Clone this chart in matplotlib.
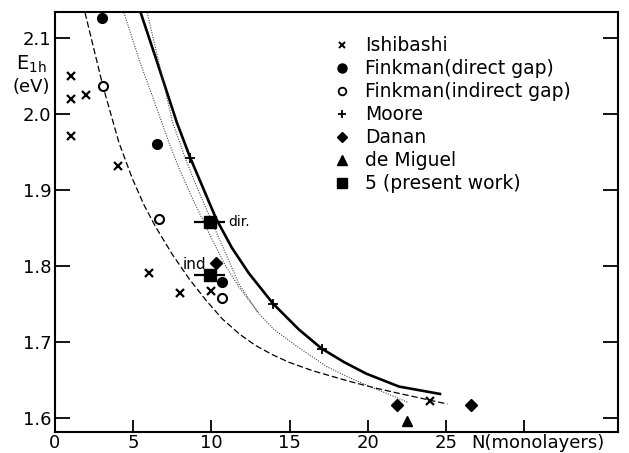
import matplotlib.pyplot as plt

plt.rcParams['font.family'] = 'DejaVu Sans'
plt.rcParams['mathtext.fontset'] = 'dejavusans'

# Экспериментальные точки E_1h(N)
ishibashi_n = [1, 1, 2, 1, 4, 6, 8, 10, 24]
ishibashi_e = [2.050, 2.020, 2.025, 1.971, 1.931, 1.790, 1.764, 1.767, 1.622]

finkman_dir_n = [3.0, 6.55, 10.7]
finkman_dir_e = [2.126, 1.960, 1.778]

finkman_ind_n = [3.1, 6.65, 10.7]
finkman_ind_e = [2.036, 1.862, 1.758]

moore_n = [8.65, 13.95, 17.05]
moore_e = [1.942, 1.750, 1.691]

danan_n = [10.3, 21.9, 26.6]
danan_e = [1.804, 1.617, 1.617]

miguel_n = [22.5]
miguel_e = [1.596]

present_n = [9.9, 9.9]
present_e = [1.857, 1.788]
present_dn = [1.0, 1.0]
present_labels = ['dir.', 'ind']

# Расчётные кривые
solid_n = [5.48, 6.45, 7.8, 8.65, 10.3, 11.3, 12.4, 13.95, 15.6, 17.05, 18.5, 19.9, 22.0, 24.7]
solid_e = [2.133, 2.073, 1.988, 1.942, 1.862, 1.824, 1.790, 1.750, 1.716, 1.691, 1.673, 1.658, 1.641, 1.631]

dashed_n = [1.92, 3.07, 4.09, 4.94, 5.69, 6.44, 7.5, 8.57, 9.64, 10.7, 11.8, 12.83, 13.9,
            14.96, 16.45, 18.8, 20.5, 22.0, 25.1]
dashed_e = [2.133, 2.036, 1.962, 1.915, 1.880, 1.851, 1.815, 1.783, 1.755, 1.730, 1.710, 1.695, 1.683,
            1.673, 1.662, 1.648, 1.639, 1.632, 1.618]

dot1_n = [4.41, 5.4, 6.44, 7.29, 7.93, 8.8, 9.53, 10.06, 10.9, 11.76, 13.0, 14.0, 15.6, 17.4, 18.8, 20.5, 22.6]
dot1_e = [2.133, 2.070, 2.011, 1.962, 1.928, 1.888, 1.857, 1.834, 1.800, 1.772, 1.738, 1.716, 1.692,
          1.667, 1.653, 1.638, 1.620]

dot2_n = [5.9, 6.83, 7.5, 8.3, 9.2, 9.95, 10.4, 11.0, 11.76, 13.0]
dot2_e = [2.133, 2.051, 1.990, 1.943, 1.897, 1.862, 1.840, 1.812, 1.776, 1.738]

n_ticks = [0, 5, 10, 15, 20, 25, 30]
n_ticklabels = ['0', '5', '10', '15', '20', '25', '']
e_ticks = [1.6, 1.7, 1.8, 1.9, 2.0, 2.1]
e_ticklabels = ['1.6', '1.7', '1.8', '1.9', '2.0', '2.1']

legend_names = ['Ishibashi', 'Finkman(direct gap)', 'Finkman(indirect gap)', 'Moore',
                'Danan', 'de Miguel', '5 (present work)']

fig = plt.figure(figsize=(6.29, 4.53), dpi=100)
ax = fig.add_axes([0.0874, 0.0470, 0.8951, 0.9276])

# кривые
ax.plot(solid_n, solid_e, color='k', lw=1.9, solid_capstyle='butt')
ax.plot(dashed_n, dashed_e, color='k', lw=0.9, dashes=(5, 2.3))
ax.plot(dot1_n, dot1_e, color='0.2', lw=0.75, linestyle=(0, (1, 1.4)))
ax.plot(dot2_n, dot2_e, color='0.2', lw=0.75, linestyle=(0, (1, 1.4)))

# точки
ax.plot(ishibashi_n, ishibashi_e, 'x', color='k', ms=6, mew=1.6, ls='none')
ax.plot(finkman_dir_n, finkman_dir_e, 'o', color='k', ms=7, ls='none')
ax.plot(finkman_ind_n, finkman_ind_e, 'o', mfc='white', mec='k', ms=6.5, mew=1.5, ls='none')
ax.plot(moore_n, moore_e, '+', color='k', ms=7.5, mew=1.3, ls='none')
ax.plot(danan_n, danan_e, 'D', color='k', ms=6.5, ls='none')
ax.plot(miguel_n, miguel_e, '^', color='k', ms=7, ls='none')
ax.errorbar(present_n, present_e, xerr=present_dn, fmt='s', color='k', ms=8,
            elinewidth=1.6, capsize=0)

ax.text(present_n[0] + present_dn[0] + 0.2, present_e[0], present_labels[0],
        ha='left', va='center', fontsize=10)
ax.text(present_n[1] - 0.2, present_e[1] + 0.013, present_labels[1],
        ha='right', va='center', fontsize=11)

# легенда вручную
leg_markers = [dict(marker='x', ms=5, mew=1.4, color='k'),
               dict(marker='o', ms=6.5, color='k'),
               dict(marker='o', ms=5.5, mfc='white', mec='k', mew=1.3),
               dict(marker='+', ms=5.5, mew=1.3, color='k'),
               dict(marker='D', ms=5.5, color='k'),
               dict(marker='^', ms=6.5, color='k'),
               dict(marker='s', ms=7.5, color='k')]
for i, name in enumerate(legend_names):
    yy = 0.920 - 0.0547 * i
    ax.plot([0.509], [yy], transform=ax.transAxes, ls='none', clip_on=False, **leg_markers[i])
    ax.text(0.551, yy, name, transform=ax.transAxes, ha='left', va='center', fontsize=13.5)

ax.set_xlim(0, 36)
ax.set_ylim(1.5816, 2.1345)
ax.set_xticks(n_ticks)
ax.set_xticklabels(n_ticklabels)
ax.set_yticks(e_ticks)
ax.set_yticklabels(e_ticklabels)
ax.tick_params(axis='both', direction='in', width=1.3, labelsize=13,
               right=True, top=False)
ax.tick_params(axis='y', length=11, pad=2.5)
ax.tick_params(axis='x', length=9, pad=1.5)
for sp in ax.spines.values():
    sp.set_linewidth(1.5)

ax.annotate('N(monolayers)', xy=(26.6, 0), xycoords=('data', 'axes fraction'),
            xytext=(0, -1.5), textcoords='offset points', ha='left', va='top', fontsize=13)

fig.text(16 / 629, 1 - 64 / 453, r'E$_{\rm 1h}$', ha='left', va='center', fontsize=14)
fig.text(12 / 629, 1 - 87 / 453, '(eV)', ha='left', va='center', fontsize=13)

fig.savefig('out.png', dpi=100)
